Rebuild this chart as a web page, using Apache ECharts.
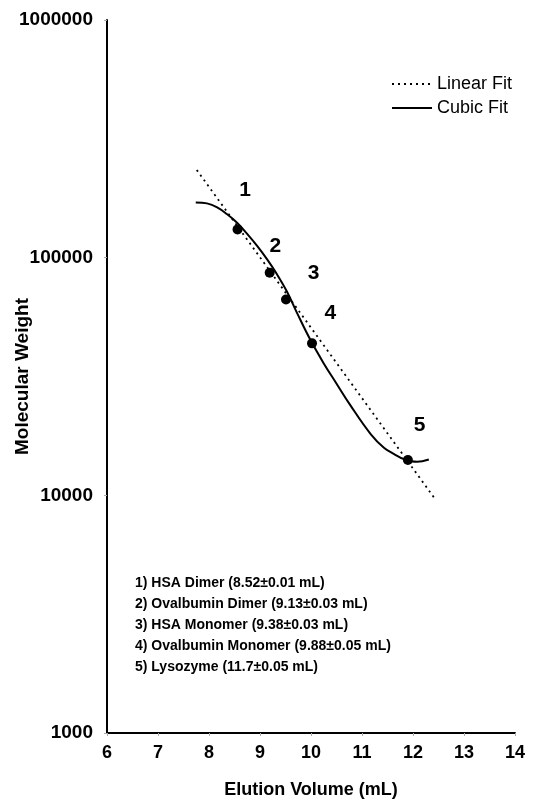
<!DOCTYPE html>
<html>
<head>
<meta charset="utf-8">
<script src="https://cdn.jsdelivr.net/npm/echarts@6/dist/echarts.min.js"></script>
<style>
  html, body { margin: 0; padding: 0; background: #fff; }
  #chart { width: 546px; height: 805px; }
</style>
</head>
<body>
<div id="chart"></div>
<script>
// ---- Data ----
const xTicks = [6, 7, 8, 9, 10, 11, 12, 13, 14];
const yTicks = [1000, 10000, 100000, 1000000];

const pointX = [8.56, 9.19, 9.51, 10.02, 11.90];
const pointY = [131500, 86400, 66700, 43600, 14070];

const pointLabels = ['1', '2', '3', '4', '5'];
const labelX = [8.71, 9.30, 10.05, 10.38, 12.13];
const labelY = [192600, 111900, 86150, 58450, 19750];

const linearX = [7.76, 12.41];
const linearY = [233800, 9800];

const cubicX = [7.74, 7.96, 8.16, 8.35, 8.55, 8.74, 8.94, 9.14, 9.33, 9.53, 9.73,
                9.99, 10.25, 10.48, 10.77, 11.17, 11.43, 11.63, 11.82, 12.08, 12.31];
const cubicY = [170800, 169200, 162800, 152600, 140300, 126500, 112300, 98300, 85300, 71900, 58300,
                45000, 35900, 30000, 23960, 18100, 15850, 14910, 14210, 13840, 14160];

const annotations = [
  '1) HSA Dimer (8.52\u00B10.01 mL)',
  '2) Ovalbumin Dimer (9.13\u00B10.03 mL)',
  '3) HSA Monomer (9.38\u00B10.03 mL)',
  '4) Ovalbumin Monomer (9.88\u00B10.05 mL)',
  '5) Lysozyme (11.7\u00B10.05 mL)'
];

const seriesNames = ['Linear Fit', 'Cubic Fit'];
const xTitle = 'Elution Volume (mL)';
const yTitle = 'Molecular Weight';

// ---- Build chart ----
const FONT = '"Liberation Sans", Arial, sans-serif';
const zip = (a, b) => a.map((v, i) => [v, b[i]]);

const chart = echarts.init(document.getElementById('chart'), null, { renderer: 'canvas' });

chart.setOption({
  animation: false,
  backgroundColor: '#ffffff',
  textStyle: { fontFamily: FONT, color: '#000' },
  grid: { left: 107, right: 31, top: 20, bottom: 72, containLabel: false, outerBoundsMode: 'none' },
  legend: {
    data: seriesNames,
    orient: 'vertical',
    left: 391,
    top: 75,
    padding: 0,
    itemWidth: 40,
    itemHeight: 14,
    itemGap: 6,
    itemStyle: { opacity: 0 },
    textStyle: { fontFamily: FONT, fontSize: 18, color: '#000' }
  },
  xAxis: {
    type: 'value',
    min: xTicks[0],
    max: xTicks[xTicks.length - 1],
    interval: 1,
    name: xTitle,
    nameLocation: 'middle',
    nameGap: 48,
    nameMoveOverlap: false,
    nameTextStyle: { fontFamily: FONT, fontSize: 18, fontWeight: 'bold', color: '#000' },
    axisLine: { lineStyle: { color: '#000', width: 2 } },
    axisTick: { show: true, length: 3, lineStyle: { color: '#aaa', width: 1 } },
    axisLabel: { fontFamily: FONT, fontSize: 18, fontWeight: 'bold', color: '#000', margin: 11 },
    splitLine: { show: false }
  },
  yAxis: {
    type: 'log',
    logBase: 10,
    min: yTicks[0],
    max: yTicks[yTicks.length - 1],
    name: yTitle,
    nameLocation: 'middle',
    nameGap: 75,
    nameMoveOverlap: false,
    nameRotate: 90,
    nameTextStyle: { fontFamily: FONT, fontSize: 19, fontWeight: 'bold', color: '#000' },
    axisLine: { lineStyle: { color: '#000', width: 2 } },
    axisTick: { show: true, length: 3, lineStyle: { color: '#aaa', width: 1 } },
    axisLabel: {
      fontFamily: FONT, fontSize: 19, fontWeight: 'bold', color: '#000', margin: 14,
      formatter: v => String(Math.round(v))
    },
    splitLine: { show: false }
  },
  series: [
    {
      name: seriesNames[0],
      type: 'line',
      data: zip(linearX, linearY),
      symbol: 'none',
      lineStyle: { color: '#000', width: 1.8, type: [2, 4] },
      itemStyle: { color: '#000' }
    },
    {
      name: seriesNames[1],
      type: 'line',
      data: zip(cubicX, cubicY),
      symbol: 'none',
      smooth: 0.4,
      lineStyle: { color: '#000', width: 2, type: 'solid' },
      itemStyle: { color: '#000' }
    },
    {
      name: 'Standards',
      type: 'scatter',
      data: zip(pointX, pointY),
      symbol: 'circle',
      symbolSize: 10,
      itemStyle: { color: '#000', opacity: 1 },
      z: 5
    },
    {
      name: 'Labels',
      type: 'scatter',
      data: labelX.map((x, i) => ({ value: [x, labelY[i]], name: pointLabels[i] })),
      symbolSize: 1,
      itemStyle: { color: 'rgba(0,0,0,0)', opacity: 1 },
      label: {
        show: true,
        position: 'inside',
        formatter: p => p.name,
        fontFamily: FONT,
        fontSize: 21,
        fontWeight: 'bold',
        color: '#000',
        opacity: 1
      }
    }
  ],
  graphic: [
    {
      type: 'text',
      left: 135,
      top: 573,
      style: {
        text: annotations.join('\n'),
        font: 'bold 14px ' + FONT,
        lineHeight: 21,
        fill: '#000'
      }
    }
  ]
});
</script>
</body>
</html>
